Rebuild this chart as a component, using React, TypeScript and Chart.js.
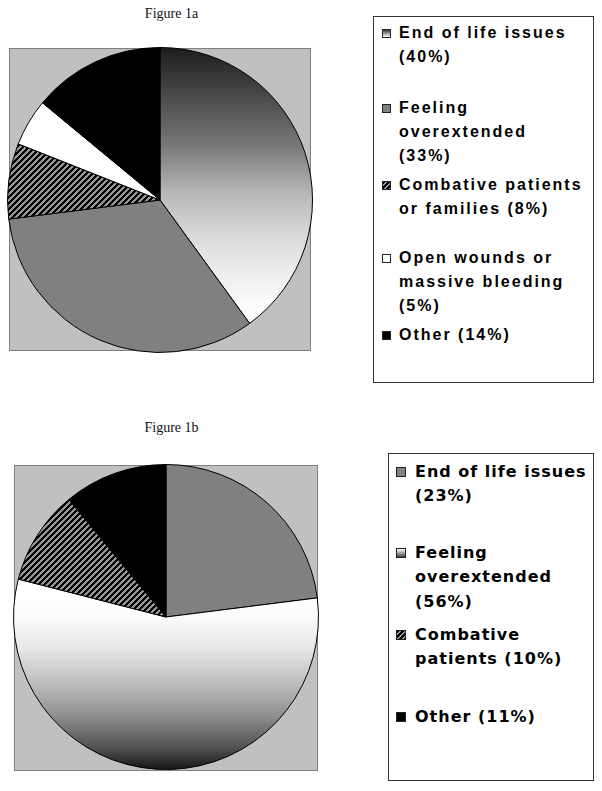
import React, { useEffect, useRef } from "react";
import { Chart, registerables } from "chart.js";

Chart.register(...registerables);

// ---------- data ----------
const categories1a = [
  "End of life issues",
  "Feeling overextended",
  "Combative patients or families",
  "Open wounds or massive bleeding",
  "Other",
];
const values1a = [40, 33, 8, 5, 14];
const legendText1a = [
  ["End of life issues", "(40%)"],
  ["Feeling", "overextended", "(33%)"],
  ["Combative patients", "or families (8%)"],
  ["Open wounds or", "massive bleeding", "(5%)"],
  ["Other (14%)"],
];

const categories1b = [
  "End of life issues",
  "Feeling overextended",
  "Combative patients",
  "Other",
];
const values1b = [23, 56, 10, 11];
const legendText1b = [
  ["End of life issues", "(23%)"],
  ["Feeling", "overextended", "(56%)"],
  ["Combative", "patients (10%)"],
  ["Other (11%)"],
];

// ---------- styles ----------
type Fill = "gradDown" | "gradUp" | "gray" | "hatch" | "white" | "black";
const fills1a: Fill[] = ["gradDown", "gray", "hatch", "white", "black"];
const fills1b: Fill[] = ["gray", "gradUp", "hatch", "black"];

const gradDownStops: [number, string][] = [
  [0, "#1c1c1c"],
  [0.32, "#777777"],
  [0.48, "#b8b8b8"],
  [0.65, "#e0e0e0"],
  [0.83, "#fafafa"],
  [0.9, "#ffffff"],
  [1, "#ffffff"],
];
const gradUpStops: [number, string][] = [
  [0, "#ffffff"],
  [0.44, "#ffffff"],
  [0.49, "#fcfcfc"],
  [0.6, "#e8e8e8"],
  [0.71, "#c0c0c0"],
  [0.82, "#909090"],
  [0.93, "#505050"],
  [1, "#141414"],
];

function makeHatch(ctx: CanvasRenderingContext2D): CanvasPattern | string {
  const n = 6;
  const c = document.createElement("canvas");
  c.width = n;
  c.height = n;
  const t = c.getContext("2d");
  if (!t) return "#555";
  const img = t.createImageData(n, n);
  for (let y = 0; y < n; y++) {
    for (let x = 0; x < n; x++) {
      const black = (x + y) % n < 3;
      const v = black ? 0 : 150;
      const i = (y * n + x) * 4;
      img.data[i] = v;
      img.data[i + 1] = v;
      img.data[i + 2] = v;
      img.data[i + 3] = 255;
    }
  }
  t.putImageData(img, 0, 0);
  return ctx.createPattern(c, "repeat") || "#555";
}

function cssFill(kind: Fill): string {
  switch (kind) {
    case "gradDown":
      return "linear-gradient(#3a3a3a, #ffffff)";
    case "gradUp":
      return "linear-gradient(#ffffff, #444444)";
    case "gray":
      return "#808080";
    case "hatch":
      return "repeating-linear-gradient(135deg, #000 0px, #000 2px, #999 2px, #999 3.5px)";
    case "white":
      return "#ffffff";
    default:
      return "#000000";
  }
}

type PieProps = {
  categories: string[];
  values: number[];
  fills: Fill[];
  size: number;
};

function PieCanvas({ categories, values, fills, size }: PieProps) {
  const ref = useRef<HTMLCanvasElement | null>(null);
  useEffect(() => {
    const canvas = ref.current;
    if (!canvas) return;
    const ctx2d = canvas.getContext("2d")!;
    const hatch = makeHatch(ctx2d);
    const chart = new Chart(canvas, {
      type: "pie",
      data: {
        labels: categories,
        datasets: [
          {
            data: values,
            borderColor: "#000000",
            borderWidth: 1,
            backgroundColor: (c: any) => {
              const kind = fills[c.dataIndex];
              if (kind === "gray") return "#808080";
              if (kind === "white") return "#ffffff";
              if (kind === "black") return "#000000";
              if (kind === "hatch") return hatch;
              const area = c.chart.chartArea;
              if (!area) return "#999999";
              const g = c.chart.ctx.createLinearGradient(0, area.top, 0, area.bottom);
              const stops = kind === "gradDown" ? gradDownStops : gradUpStops;
              stops.forEach(([o, col]) => g.addColorStop(o, col));
              return g;
            },
          },
        ],
      },
      options: {
        responsive: false,
        animation: false,
        events: [],
        layout: { padding: 0 },
        plugins: {
          legend: { display: false },
          tooltip: { enabled: false },
          title: { display: false },
        },
      },
    });
    return () => chart.destroy();
  }, []);
  return (
    <canvas
      ref={ref}
      width={size}
      height={size}
      style={{ width: size, height: size, display: "block" }}
    />
  );
}

type FigureLayout = {
  title: string;
  titleTop: number;
  box: { left: number; top: number; width: number; height: number };
  center: { x: number; y: number };
  size: number;
  legendBox: { left: number; top: number; width: number; height: number };
  itemCenters: number[];
  lineHeight: number;
  markerX: number;
  markerSize: number;
  textX: number;
  font: string;
  letterSpacing: number;
};

const layout1a: FigureLayout = {
  title: "Figure 1a",
  titleTop: 6,
  box: { left: 9, top: 48, width: 302, height: 303 },
  center: { x: 160, y: 200 },
  size: 306,
  legendBox: { left: 373, top: 16, width: 221, height: 367 },
  itemCenters: [33, 108, 185, 258, 335],
  lineHeight: 24,
  markerX: 382,
  markerSize: 9,
  textX: 399,
  font: "bold 16px 'Liberation Sans', Arial, sans-serif",
  letterSpacing: 2,
};

const layout1b: FigureLayout = {
  title: "Figure 1b",
  titleTop: 420,
  box: { left: 14, top: 465, width: 304, height: 306 },
  center: { x: 166, y: 617 },
  size: 306,
  legendBox: { left: 388, top: 453, width: 206, height: 328 },
  itemCenters: [472, 553, 635, 717],
  lineHeight: 24.5,
  markerX: 396,
  markerSize: 10,
  textX: 415,
  font: "bold 16px 'DejaVu Sans', sans-serif",
  letterSpacing: 1,
};

function Figure({
  L,
  categories,
  values,
  fills,
  legendText,
}: {
  L: FigureLayout;
  categories: string[];
  values: number[];
  fills: Fill[];
  legendText: string[][];
}) {
  return (
    <>
      <div
        style={{
          position: "absolute",
          left: 0,
          width: 343,
          top: L.titleTop,
          height: 16,
          lineHeight: "16px",
          textAlign: "center",
          font: "14px 'Liberation Serif', 'Times New Roman', serif",
          color: "#111",
        }}
      >
        {L.title}
      </div>
      <div
        style={{
          position: "absolute",
          left: L.box.left,
          top: L.box.top,
          width: L.box.width,
          height: L.box.height,
          boxSizing: "border-box",
          background: "#c0c0c0",
          border: "1px solid #808080",
        }}
      />
      <div
        style={{
          position: "absolute",
          left: L.center.x - L.size / 2,
          top: L.center.y - L.size / 2,
        }}
      >
        <PieCanvas categories={categories} values={values} fills={fills} size={L.size} />
      </div>
      <div
        style={{
          position: "absolute",
          left: L.legendBox.left,
          top: L.legendBox.top,
          width: L.legendBox.width,
          height: L.legendBox.height,
          boxSizing: "border-box",
          border: "1px solid #333",
          background: "#fff",
        }}
      />
      {legendText.map((lines, i) => (
        <React.Fragment key={i}>
          <div
            style={{
              position: "absolute",
              left: L.markerX,
              top: L.itemCenters[i] - L.markerSize / 2,
              width: L.markerSize,
              height: L.markerSize,
              boxSizing: "border-box",
              border: "1px solid #222",
              background: cssFill(fills[i]),
            }}
          />
          <div
            style={{
              position: "absolute",
              left: L.textX,
              top: L.itemCenters[i] - L.lineHeight / 2,
              font: L.font,
              lineHeight: L.lineHeight + "px",
              letterSpacing: L.letterSpacing,
              color: "#000",
              whiteSpace: "nowrap",
            }}
          >
            {lines.map((ln, j) => (
              <div key={j}>{ln}</div>
            ))}
          </div>
        </React.Fragment>
      ))}
    </>
  );
}

export default function App() {
  return (
    <div
      style={{
        position: "absolute",
        left: 0,
        top: 0,
        width: 602,
        height: 791,
        background: "#fff",
        overflow: "hidden",
      }}
    >
      <Figure
        L={layout1a}
        categories={categories1a}
        values={values1a}
        fills={fills1a}
        legendText={legendText1a}
      />
      <Figure
        L={layout1b}
        categories={categories1b}
        values={values1b}
        fills={fills1b}
        legendText={legendText1b}
      />
    </div>
  );
}
